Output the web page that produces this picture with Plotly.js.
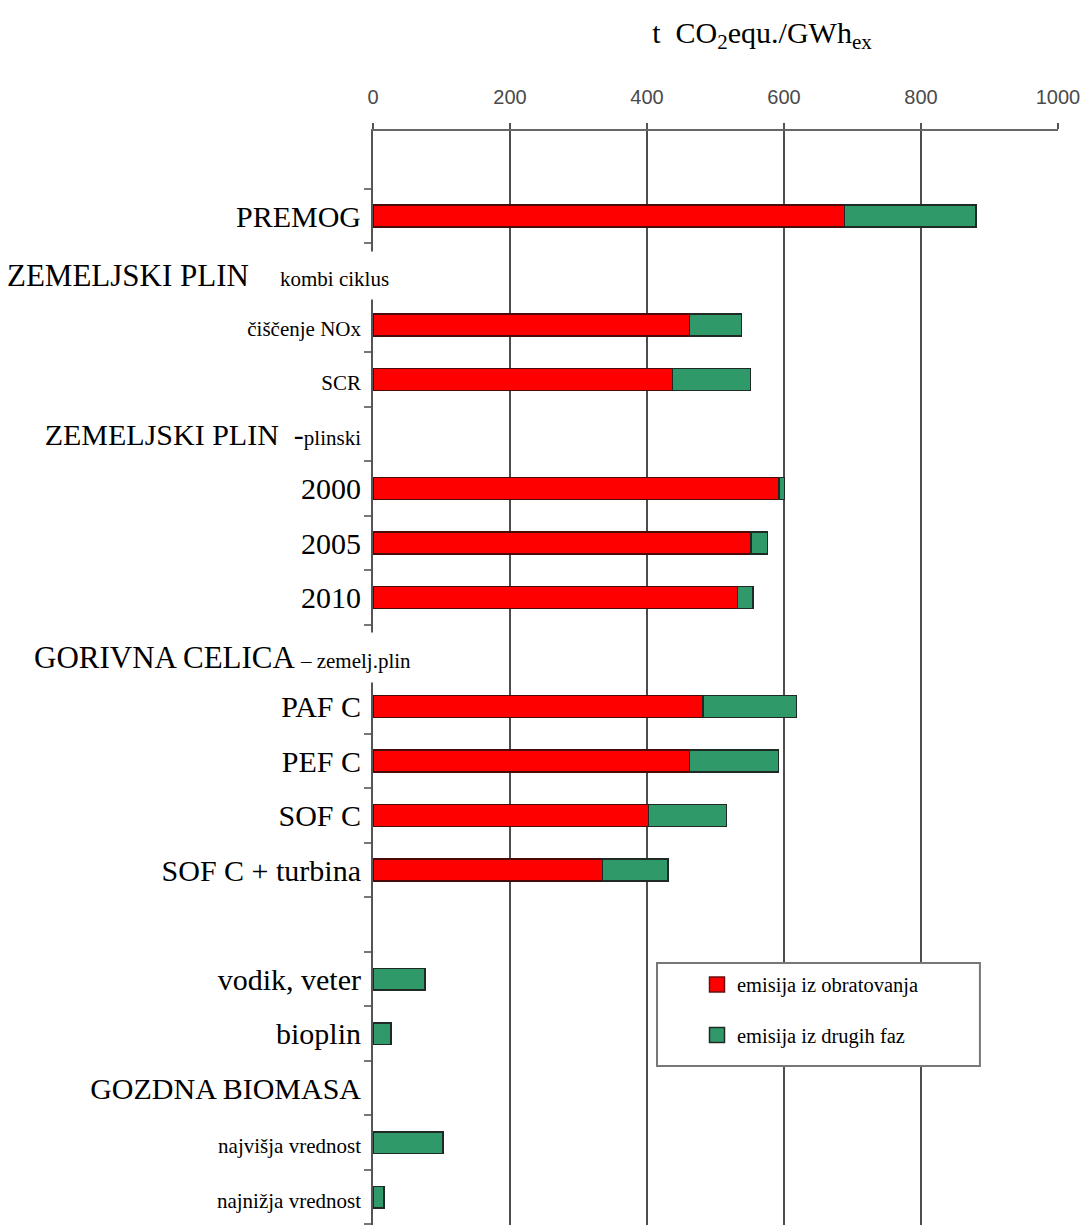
<!DOCTYPE html>
<html><head><meta charset="utf-8">
<script src="https://cdn.plot.ly/plotly-3.0.1.min.js"></script>
<style>html,body{margin:0;padding:0;background:#fff}#chart{width:1090px;height:1225px}</style>
</head><body><div id="chart"></div>
<script>
// ---- data ----
const categories = ["PREMOG","ZEMELJSKI PLIN kombi ciklus","čiščenje NOx","SCR","ZEMELJSKI PLIN -plinski","2000","2005","2010","GORIVNA CELICA – zemelj.plin","PAF C","PEF C","SOF C","SOF C + turbina","(prazno)","vodik, veter","bioplin","GOZDNA BIOMASA","najvišja vrednost","najnižja vrednost"];
const tickLabels = ["PREMOG","","čiščenje NOx","SCR","ZEMELJSKI PLIN -plinski","2000","2005","2010","","PAF C","PEF C","SOF C","SOF C + turbina","","vodik, veter","bioplin","GOZDNA BIOMASA","najvišja vrednost","najnižja vrednost"];
const emisijaObratovanja = [688, null, 462, 437, null, 593, 552, 532, null, 482, 462, 402, 335, null, null, null, null, null, null];
const emisijaDrugihFaz   = [192, null, 76, 114, null, 8, 24, 23, null, 136, 130, 114, 96, null, 76, 26, null, 102, 16];
const seriesNames = ["emisija iz obratovanja", "emisija iz drugih faz"];
const xTicks = [0, 200, 400, 600, 800, 1000];
const headerLabels = [["ZEMELJSKI PLIN", "kombi ciklus"], ["GORIVNA CELICA", "– zemelj.plin"]];

// ---- styling helpers ----
const SERIF = "Liberation Serif, Times New Roman, serif";
const RED = "#ff0000", GREEN = "#30996a";
const smallLabels = new Set(["čiščenje NOx", "SCR", "najvišja vrednost", "najnižja vrednost"]);
function fmtLabel(t) {
  if (!t) return "";
  if (smallLabels.has(t)) return '<span style="font-size:21px">' + t + '</span>';
  if (t.indexOf(" -") > 0) {
    const i = t.indexOf(" -");
    return t.slice(0, i) + '&nbsp; -<span style="font-size:21px">' + t.slice(i + 2) + '</span>';
  }
  return t;
}

const traces = [
  {
    type: "bar", orientation: "h", name: seriesNames[0], showlegend: false,
    x: emisijaObratovanja, y: categories,
    marker: {color: RED, line: {color: "#4a0a0a", width: 1.5}},
    hoverinfo: "x+y"
  },
  {
    type: "bar", orientation: "h", name: seriesNames[1], showlegend: false,
    x: emisijaDrugihFaz, y: categories,
    marker: {color: GREEN, line: {color: "#1f2a24", width: 1.5}},
    hoverinfo: "x+y"
  },
  // legend-only entries (larger symbols, like the reference)
  {
    type: "scatter", mode: "markers", name: seriesNames[0], legendgroup: "a",
    x: [null], y: [null],
    marker: {symbol: "square", size: 15, color: RED, line: {color: "#6a1010", width: 1.5}}
  },
  {
    type: "scatter", mode: "markers", name: seriesNames[1], legendgroup: "b",
    x: [null], y: [null],
    marker: {symbol: "square", size: 15, color: GREEN, line: {color: "#1f2a24", width: 1.5}}
  }
];

const layout = {
  width: 1090, height: 1225,
  margin: {l: 373, r: 32, t: 131, b: 0},
  paper_bgcolor: "#fff", plot_bgcolor: "#fff",
  barmode: "stack", bargap: 0.6,
  title: {
    text: "t&nbsp; CO<sub>2</sub>equ./GWh<sub>ex</sub>",
    font: {family: SERIF, size: 30, color: "#000"},
    x: 762 / 1090, xref: "container", xanchor: "center",
    y: 1 - 32 / 1225, yref: "container", yanchor: "middle"
  },
  xaxis: {
    side: "top", range: [0, 1000], autorange: false,
    tickmode: "array", tickvals: xTicks, ticktext: xTicks.map(String),
    showgrid: true, gridcolor: "#4d4d4d", gridwidth: 2,
    showline: true, linecolor: "#666", linewidth: 2,
    ticks: "outside", ticklen: 6, tickwidth: 2, tickcolor: "#555",
    tickfont: {family: "Liberation Sans, Arial, sans-serif", size: 20, color: "#4a4a4a"},
    ticklabelstandoff: 11, zeroline: false, fixedrange: true
  },
  yaxis: {
    type: "category", categoryorder: "array", categoryarray: categories,
    range: [18.51, -1.56], autorange: false,
    tickmode: "array", tickvals: categories, ticktext: tickLabels.map(fmtLabel),
    tickson: "boundaries",
    showline: true, linecolor: "#555", linewidth: 2,
    ticks: "outside", ticklen: 7, tickwidth: 2, tickcolor: "#777",
    tickfont: {family: SERIF, size: 30, color: "#000"},
    ticklabelstandoff: 4,
    showgrid: false, zeroline: false, fixedrange: true
  },
  showlegend: true,
  legend: {
    x: 0.473, y: 0.238, xanchor: "left", yanchor: "top",
    bgcolor: "rgba(0,0,0,0)", borderwidth: 0,
    font: {family: SERIF, size: 20.5, color: "#000"},
    traceorder: "grouped", tracegroupgap: 21, itemsizing: "trace"
  },
  shapes: [{
    type: "rect", xref: "paper", yref: "paper", layer: "above",
    x0: 0.4146, x1: 0.886, y0: 0.1453, y1: 0.2395,
    line: {color: "#777", width: 2}, fillcolor: "#fff"
  }],
  annotations: [
    {
      xref: "paper", yref: "y", x: -0.5445, y: categories[1], xanchor: "left", yanchor: "middle",
      text: headerLabels[0][0] + '&nbsp;&nbsp;&nbsp; <span style="font-size:21px">' + headerLabels[0][1] + '</span>',
      font: {family: SERIF, size: 31, color: "#000"}, showarrow: false,
      bgcolor: "#fff", borderpad: 6, yshift: -5
    },
    {
      xref: "paper", yref: "y", x: -0.507, y: categories[8], xanchor: "left", yanchor: "middle",
      text: headerLabels[1][0] + ' <span style="font-size:21px">' + headerLabels[1][1] + '</span>',
      font: {family: SERIF, size: 31, color: "#000"}, showarrow: false,
      bgcolor: "#fff", borderpad: 7, yshift: -5
    }
  ]
};

Plotly.newPlot("chart", traces, layout, {displayModeBar: false, staticPlot: true});
</script>
</body></html>
